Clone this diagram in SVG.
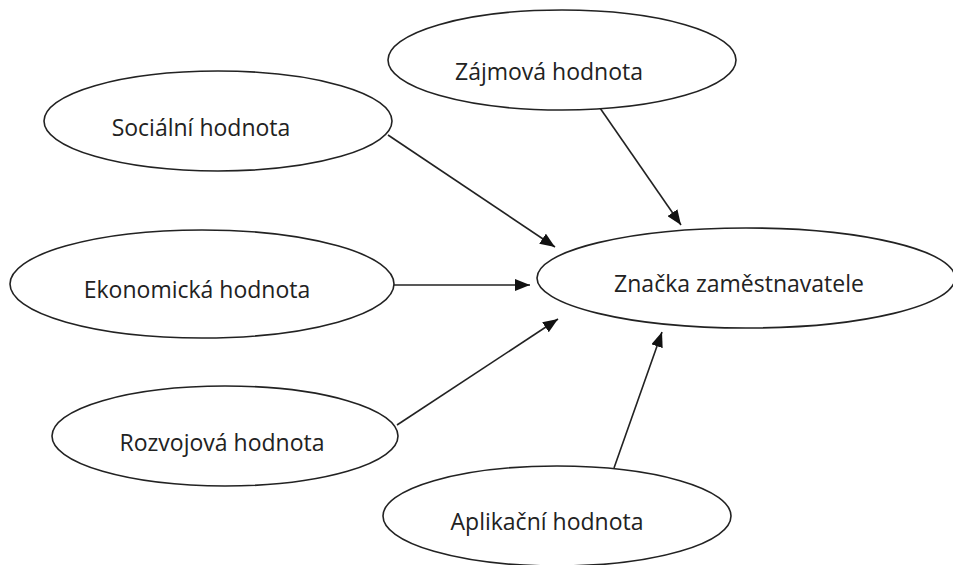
<svg xmlns="http://www.w3.org/2000/svg" width="953" height="565" viewBox="0 0 953 565">
<style>
.n ellipse{fill:#fff;stroke:#222;stroke-width:1.6}
.n text{font-family:"Open Sans","Noto Sans",sans-serif;font-size:23px;fill:#222;text-anchor:middle}
.c line{stroke:#222;stroke-width:1.6;marker-end:url(#ah)}
</style>
<defs>
<marker id="ah" viewBox="0 0 15 12" refX="15" refY="6" markerWidth="15" markerHeight="12" markerUnits="userSpaceOnUse" orient="auto">
<path d="M0,0 L15,6 L0,12 Z" fill="#111"/>
</marker>
</defs>
<rect width="953" height="565" fill="#fff"/>
<g class="c" id="connectors">
<line x1="388" y1="135" x2="555" y2="247"/>
<line x1="600" y1="108" x2="681" y2="225"/>
<line x1="393" y1="285" x2="530" y2="285"/>
<line x1="397" y1="425" x2="558" y2="319"/>
<line x1="614" y1="468" x2="662" y2="332"/>
</g>
<g class="n" id="zajmova"><ellipse cx="562" cy="60" rx="174" ry="50"/><text x="549" y="80">Zájmová hodnota</text></g>
<g class="n" id="socialni"><ellipse cx="218" cy="121" rx="174" ry="50"/><text x="201" y="136">Sociální hodnota</text></g>
<g class="n" id="ekonomicka"><ellipse cx="202" cy="284" rx="192" ry="54"/><text x="197" y="298">Ekonomická hodnota</text></g>
<g class="n" id="znacka"><ellipse cx="746" cy="278" rx="209" ry="50"/><text x="739" y="292">Značka zaměstnavatele</text></g>
<g class="n" id="rozvojova"><ellipse cx="225" cy="436" rx="173" ry="50"/><text x="222" y="451">Rozvojová hodnota</text></g>
<g class="n" id="aplikacni"><ellipse cx="557" cy="516" rx="174" ry="50"/><text x="547" y="530">Aplikační hodnota</text></g>
</svg>
